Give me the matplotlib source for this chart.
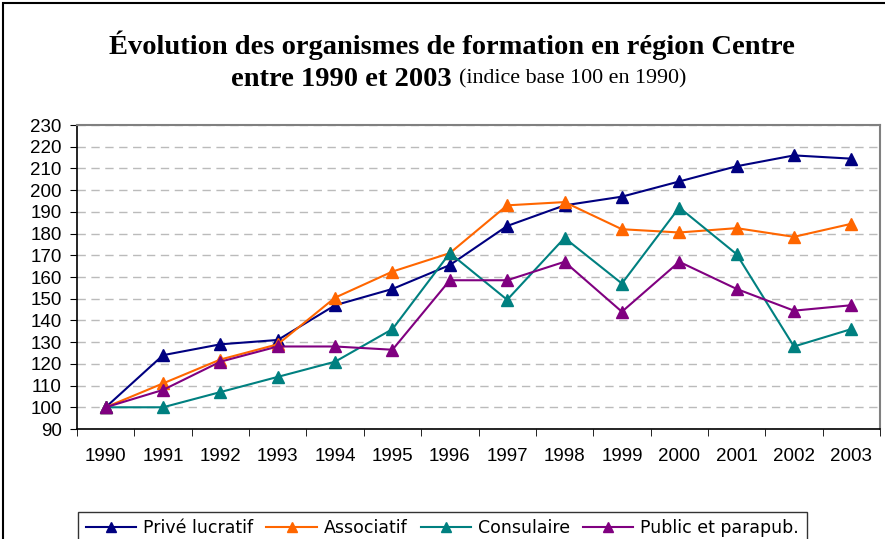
import numpy as np
import matplotlib.pyplot as plt
from matplotlib.patches import Rectangle
from matplotlib.lines import Line2D

# data (index base 100 in 1990)
years = ['1990', '1991', '1992', '1993', '1994', '1995', '1996',
         '1997', '1998', '1999', '2000', '2001', '2002', '2003']
prive = [100, 124, 129, 131, 147, 154.5, 165.5, 183.5, 193, 197, 204, 211, 216, 214.5]
associatif = [100, 111, 122, 129, 150.5, 162.5, 171, 193, 194.5, 182, 180.5, 182.5, 178.5, 184.5]
consulaire = [100, 100, 107, 114, 121, 136, 171, 149.5, 178, 157, 192, 170.5, 128, 136]
public = [100, 108, 121, 128, 128, 126.5, 158.5, 158.5, 167, 144, 167, 154.5, 144.5, 147]

series = [('Privé lucratif', prive, '#000080'),
          ('Associatif', associatif, '#FF6600'),
          ('Consulaire', consulaire, '#008080'),
          ('Public et parapub.', public, '#800080')]

fig = plt.figure(figsize=(8.85, 5.39), dpi=100)
ax = fig.add_axes([77/885, 1-429/539, (880-77)/885, (429-125)/539])

x = np.arange(len(years))
handles = []
for name, vals, col in series:
    ax.plot(x, vals, color=col, lw=1.5, marker='^', ms=8.5)
    handles.append(Line2D([], [], color=col, lw=1.5, marker='^', ms=6.5, label=name))

ax.set_xlim(-0.5, len(years)-0.5)
ax.set_ylim(90, 230)
ax.set_yticks(np.arange(90, 231, 10))
ax.set_xticks(x)
ax.set_xticklabels(years)
ax.set_xticks(np.arange(-0.5, len(years)), minor=True)
ax.tick_params(axis='x', which='major', length=0, pad=14, labelsize=13.5)
ax.tick_params(axis='x', which='minor', length=5, direction='out', color='black')
ax.tick_params(axis='y', length=5, direction='out', color='black', labelsize=13.5, pad=6)
for lab in ax.get_xticklabels() + ax.get_yticklabels():
    lab.set_fontfamily('Liberation Sans')

ax.grid(axis='y', linestyle=(0, (6, 4)), color='#bbbbbb', lw=1)
ax.set_axisbelow(True)
for side in ['top', 'right']:
    ax.spines[side].set_color('#808080')
    ax.spines[side].set_linewidth(1.5)
for side in ['left', 'bottom']:
    ax.spines[side].set_color('black')
    ax.spines[side].set_linewidth(1.2)

# title
fig.text(452/885, 1-45/539, 'Évolution des organismes de formation en région Centre',
         ha='center', va='center', fontsize=20.5, fontweight='bold', family='Liberation Serif')
fig.text(452/885, 1-79/539, 'entre 1990 et 2003', ha='right', va='center',
         fontsize=20.5, fontweight='bold', family='Liberation Serif')
fig.text(459/885, 1-79/539, '(indice base 100 en 1990)', ha='left', va='center',
         fontsize=15.8, family='Liberation Serif')

leg = fig.legend(handles=handles, loc='upper center', bbox_to_anchor=(0.5, 1-503/539), ncol=4,
                 frameon=True, fancybox=False, edgecolor='black', handlelength=2.9,
                 handletextpad=0.4, columnspacing=0.75, borderpad=0.45,
                 prop={'family': 'DejaVu Sans', 'size': 12.5})
leg.get_frame().set_linewidth(1)

# outer chart frame
fig.patches.append(Rectangle((3/885, -0.05), 1.2, 1-3/539+0.05, transform=fig.transFigure,
                             fill=False, edgecolor='black', lw=1.5))

fig.savefig('out.png', dpi=100)
